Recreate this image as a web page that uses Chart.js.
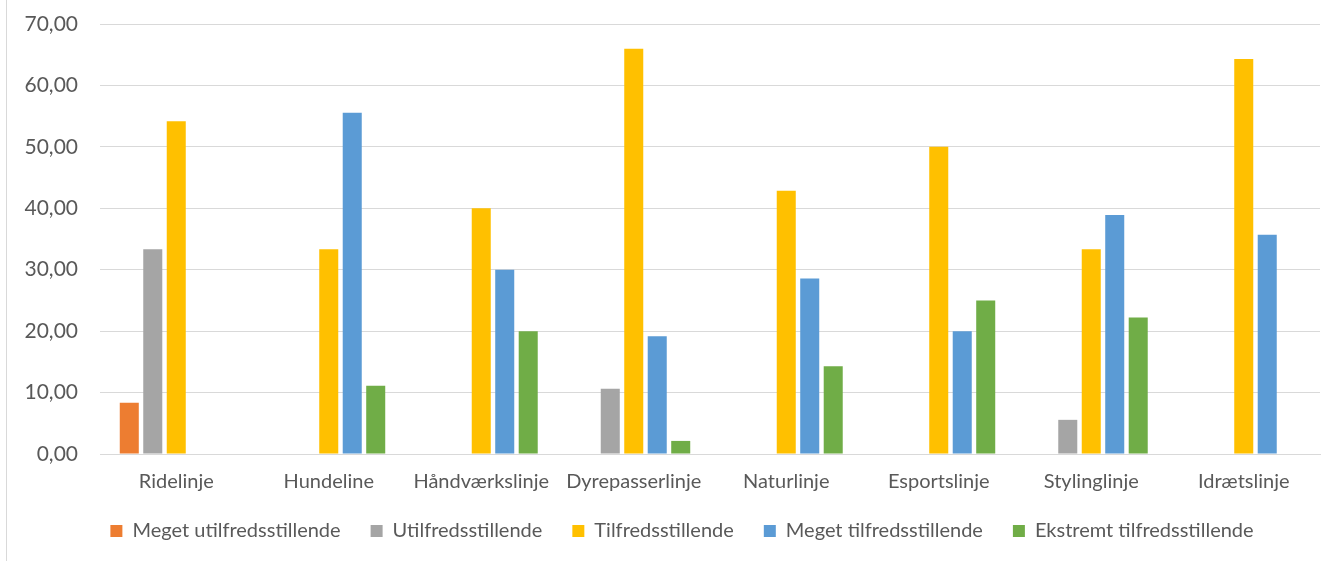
<!DOCTYPE html>
<html>
<head>
<meta charset="utf-8">
<script src="https://cdn.jsdelivr.net/npm/chart.js@4/dist/chart.umd.min.js"></script>
<style>
html,body{margin:0;padding:0;background:#fff;}
#wrap{position:relative;width:1343px;height:561px;}
#edge{position:absolute;left:6px;top:0;width:1px;height:561px;background:#d9d9d9;}
canvas{position:absolute;left:0;top:0;}
</style>
</head>
<body>
<div id="wrap"><div id="edge"></div><canvas id="c" width="1343" height="561"></canvas></div>
<script>
const categories = ["Ridelinje","Hundeline","Håndværkslinje","Dyrepasserlinje","Naturlinje","Esportslinje","Stylinglinje","Idrætslinje"];
const seriesNames = ["Meget utilfredsstillende","Utilfredsstillende","Tilfredsstillende","Meget tilfredsstillende","Ekstremt tilfredsstillende"];
const megetUtilfreds = [8.33, null, null, null, null, null, null, null];
const utilfreds      = [33.33, null, null, 10.64, null, null, 5.56, null];
const tilfreds       = [54.17, 33.33, 40.00, 65.96, 42.86, 50.00, 33.33, 64.29];
const megetTilfreds  = [null, 55.56, 30.00, 19.15, 28.57, 20.00, 38.89, 35.71];
const ekstremt       = [null, 11.11, 20.00, 2.13, 14.29, 25.00, 22.22, null];
const yTicks = [0,10,20,30,40,50,60,70];
const colors = ["#ED7D31","#A5A5A5","#FFC000","#5B9BD5","#70AD47"];

const seriesData = [megetUtilfreds, utilfreds, tilfreds, megetTilfreds, ekstremt];
const FONT = "Lato, 'Open Sans', sans-serif";
const TXT = "#595959";

// shift the legend's centring box a little to the right (as in the original)
const legendShift = {
  id: "legendShift",
  afterLayout(chart) { if (chart.legend) chart.legend.left = 44; }
};

new Chart(document.getElementById("c"), {
  type: "bar",
  data: {
    labels: categories,
    datasets: seriesData.map((d,i)=>({
      label: seriesNames[i],
      data: d,
      backgroundColor: colors[i],
      borderWidth: 0,
      categoryPercentage: 0.77,
      barPercentage: 0.81
    }))
  },
  plugins: [legendShift],
  options: {
    responsive: false,
    animation: false,
    layout: { padding: { left: 0, right: 23, top: 24, bottom: 10 } },
    plugins: {
      tooltip: { enabled: false },
      legend: {
        position: "bottom",
        labels: {
          font: { family: FONT, size: 20 },
          color: TXT,
          boxWidth: 12,
          boxHeight: 12,
          padding: 30
        }
      }
    },
    scales: {
      x: {
        grid: { display: false, drawTicks: false },
        border: { display: true, color: "#d9d9d9", width: 1 },
        ticks: { font: { family: FONT, size: 20 }, color: TXT, padding: 16, maxRotation: 0 },
        afterFit: s => { s.height = 37; }
      },
      y: {
        min: 0, max: 70,
        afterBuildTicks: s => { s.ticks = yTicks.map(v=>({value:v})); },
        grid: { color: "#d9d9d9", lineWidth: 1, drawTicks: false },
        border: { display: false },
        ticks: {
          font: { family: FONT, size: 21 }, color: TXT, padding: 22,
          callback: v => v.toFixed(2).replace(".", ",")
        },
        afterFit: s => { s.width = 100; s.paddingTop = 0; s.paddingBottom = 0; }
      }
    }
  }
});
</script>
</body>
</html>
